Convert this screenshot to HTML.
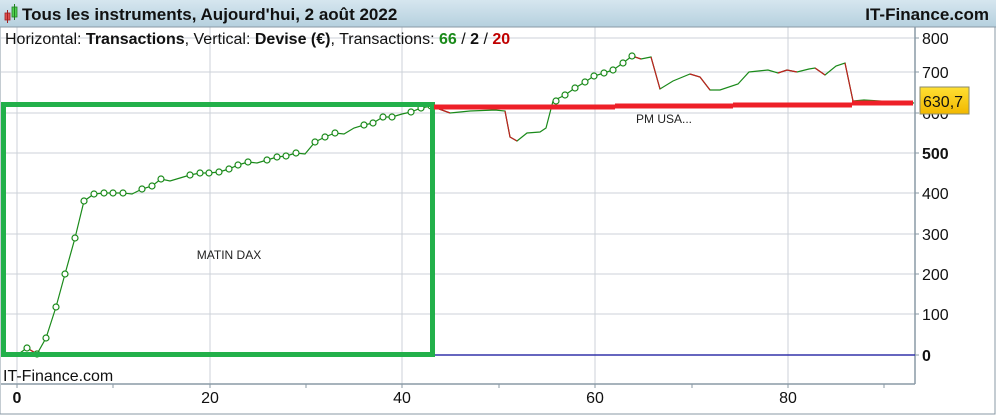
<!DOCTYPE html>
<html><head><meta charset="utf-8"><style>
html,body{margin:0;padding:0;background:#fff;}
svg{display:block;font-family:"Liberation Sans",sans-serif;}
</style></head><body>
<svg width="996" height="415" viewBox="0 0 996 415" xmlns="http://www.w3.org/2000/svg">
<defs><linearGradient id="hb" x1="0" y1="0" x2="0" y2="1"><stop offset="0" stop-color="#d6e6ef"/><stop offset="1" stop-color="#b5d0de"/></linearGradient>
<linearGradient id="yb" x1="0" y1="0" x2="0" y2="1"><stop offset="0" stop-color="#ffe033"/><stop offset="1" stop-color="#f2b800"/></linearGradient></defs>
<rect x="0" y="0" width="996" height="415" fill="#fff"/>
<rect x="0" y="0" width="996" height="27" fill="url(#hb)"/>
<line x1="0" y1="27" x2="996" y2="27" stroke="#8aa0ae"/>
<rect x="5" y="13" width="5" height="7" fill="#e05050" stroke="#a02020" stroke-width="0.8"/>
<line x1="7.5" y1="10" x2="7.5" y2="23" stroke="#a02020"/>
<rect x="12" y="7" width="5" height="10" fill="#50d050" stroke="#208020" stroke-width="0.8"/>
<line x1="14.5" y1="4" x2="14.5" y2="20" stroke="#208020"/>
<text x="22" y="20" font-size="17" font-weight="bold" fill="#111">Tous les instruments, Aujourd'hui, 2 août 2022</text>
<text x="989" y="20" font-size="17" font-weight="bold" fill="#111" text-anchor="end">IT-Finance.com</text>
<g stroke="#ccd2d8" stroke-width="1">
<line x1="1" y1="38" x2="915" y2="38"/><line x1="1" y1="72" x2="915" y2="72"/><line x1="1" y1="113" x2="915" y2="113"/><line x1="1" y1="153" x2="915" y2="153"/><line x1="1" y1="193" x2="915" y2="193"/><line x1="1" y1="234" x2="915" y2="234"/><line x1="1" y1="274" x2="915" y2="274"/><line x1="1" y1="314" x2="915" y2="314"/>
<line x1="17" y1="27" x2="17" y2="384"/><line x1="210" y1="27" x2="210" y2="384"/><line x1="402" y1="27" x2="402" y2="384"/><line x1="595" y1="27" x2="595" y2="384"/><line x1="788" y1="27" x2="788" y2="384"/>
</g>
<rect x="0" y="27" width="995" height="387" fill="none" stroke="#8a9aa6"/>
<line x1="915" y1="27" x2="915" y2="384" stroke="#8a9aa6" stroke-width="1.5"/>
<line x1="1" y1="384" x2="915" y2="384" stroke="#8a9aa6" stroke-width="1.5"/>
<g stroke="#8a9aa6"><line x1="915" y1="38" x2="919" y2="38"/><line x1="915" y1="72" x2="919" y2="72"/><line x1="915" y1="113" x2="919" y2="113"/><line x1="915" y1="153" x2="919" y2="153"/><line x1="915" y1="193" x2="919" y2="193"/><line x1="915" y1="234" x2="919" y2="234"/><line x1="915" y1="274" x2="919" y2="274"/><line x1="915" y1="314" x2="919" y2="314"/><line x1="915" y1="355" x2="919" y2="355"/>
<line x1="17" y1="384" x2="17" y2="388"/><line x1="113" y1="384" x2="113" y2="388"/><line x1="210" y1="384" x2="210" y2="388"/><line x1="306" y1="384" x2="306" y2="388"/><line x1="402" y1="384" x2="402" y2="388"/><line x1="499" y1="384" x2="499" y2="388"/><line x1="595" y1="384" x2="595" y2="388"/><line x1="692" y1="384" x2="692" y2="388"/><line x1="788" y1="384" x2="788" y2="388"/><line x1="884" y1="384" x2="884" y2="388"/></g>
<text x="5" y="44" font-size="16" fill="#111">Horizontal: <tspan font-weight="bold">Transactions</tspan>, Vertical: <tspan font-weight="bold">Devise (€)</tspan>, Transactions: <tspan font-weight="bold" fill="#1a8a1a">66</tspan> / <tspan font-weight="bold">2</tspan> / <tspan font-weight="bold" fill="#c00000">20</tspan></text>
<g font-size="16" fill="#111"><text x="922" y="44">800</text><text x="922" y="78">700</text><text x="922" y="119">600</text><text x="922" y="159" font-weight="bold">500</text><text x="922" y="199">400</text><text x="922" y="240">300</text><text x="922" y="280">200</text><text x="922" y="320">100</text><text x="922" y="361" font-weight="bold">0</text></g>
<g font-size="16" fill="#111" text-anchor="middle"><text x="17" y="403" font-weight="bold">0</text><text x="210" y="403">20</text><text x="402" y="403">40</text><text x="595" y="403">60</text><text x="788" y="403">80</text></g>
<text x="3" y="381" font-size="16" fill="#111">IT-Finance.com</text>
<line x1="433" y1="355" x2="915" y2="355" stroke="#3333aa" stroke-width="1.5"/>
<polyline fill="none" stroke="#1a8a1a" stroke-width="1.2" points="17,355 27,348 37,354 46,338 56,307 65,274 75,238 84,201 94,194 104,193 113,193 123,193 132,194 142,189 152,186 161,179 170,181 180,178 190,175 200,173 209,173 219,172 229,169 238,165 248,162 257,163 267,160 277,157 286,156 296,153 305,154 315,142 325,137 335,133 344,134 354,128 364,125 373,123 383,117 392,117 402,114 411,112 421,108 431,106 450,113 470,111 495,110 505,111 510,137 517,141 527,133 540,132 546,128 553,101 565,95 575,88 585,82 594,76 604,73 613,70 623,63 632,56 641,59 651,57 660,89 673,81 690,74 700,77 710,90 720,90 738,84 749,72 768,70 778,73 787,70 797,72 809,69 815,68 825,75 836,66 845,63 853,101 864,100 914,103"/>
<g fill="none" stroke="#c02020" stroke-width="1.2"><polyline points="632,56 641,59"/><polyline points="651,57 660,89"/><polyline points="690,74 700,77 710,90"/><polyline points="778,73 787,70 797,72"/><polyline points="815,68 825,75"/><polyline points="845,63 853,101"/><polyline points="505,111 510,137 517,141"/><polyline points="431,106 450,113"/><polyline points="27,348 37,354"/></g>
<g fill="#fff" stroke="#1a8a1a" stroke-width="1.2">
<circle cx="27" cy="348" r="3"/><circle cx="37" cy="354" r="3"/><circle cx="46" cy="338" r="3"/><circle cx="56" cy="307" r="3"/><circle cx="65" cy="274" r="3"/><circle cx="75" cy="238" r="3"/><circle cx="84" cy="201" r="3"/><circle cx="94" cy="194" r="3"/><circle cx="104" cy="193" r="3"/><circle cx="113" cy="193" r="3"/><circle cx="123" cy="193" r="3"/><circle cx="142" cy="189" r="3"/><circle cx="152" cy="186" r="3"/><circle cx="161" cy="179" r="3"/><circle cx="190" cy="175" r="3"/><circle cx="200" cy="173" r="3"/><circle cx="209" cy="173" r="3"/><circle cx="219" cy="172" r="3"/><circle cx="229" cy="169" r="3"/><circle cx="238" cy="165" r="3"/><circle cx="248" cy="162" r="3"/><circle cx="267" cy="160" r="3"/><circle cx="277" cy="157" r="3"/><circle cx="286" cy="156" r="3"/><circle cx="296" cy="153" r="3"/><circle cx="315" cy="142" r="3"/><circle cx="325" cy="137" r="3"/><circle cx="335" cy="133" r="3"/><circle cx="364" cy="125" r="3"/><circle cx="373" cy="123" r="3"/><circle cx="383" cy="117" r="3"/><circle cx="392" cy="117" r="3"/><circle cx="411" cy="112" r="3"/><circle cx="421" cy="108" r="3"/><circle cx="431" cy="106" r="3"/>
<circle cx="556" cy="101" r="3"/><circle cx="565" cy="95" r="3"/><circle cx="575" cy="88" r="3"/><circle cx="585" cy="82" r="3"/><circle cx="594" cy="76" r="3"/><circle cx="604" cy="73" r="3"/><circle cx="613" cy="70" r="3"/><circle cx="623" cy="63" r="3"/><circle cx="632" cy="56" r="3"/></g>
<rect x="3.5" y="104.5" width="429" height="250" fill="none" stroke="#22b04a" stroke-width="5"/>
<g stroke="#ee2028" stroke-width="5"><line x1="434" y1="107" x2="615" y2="107"/><line x1="615" y1="106" x2="733" y2="106"/><line x1="733" y1="105" x2="852" y2="105"/><line x1="852" y1="103" x2="913" y2="103"/></g>
<text x="229" y="259" font-size="12" fill="#222" text-anchor="middle">MATIN DAX</text>
<text x="664" y="123" font-size="12" fill="#222" text-anchor="middle">PM USA...</text>
<rect x="920" y="87" width="49" height="27" fill="url(#yb)" stroke="#8a8a6a"/>
<text x="923" y="107" font-size="16" fill="#111">630,7</text>
</svg>
</body></html>
